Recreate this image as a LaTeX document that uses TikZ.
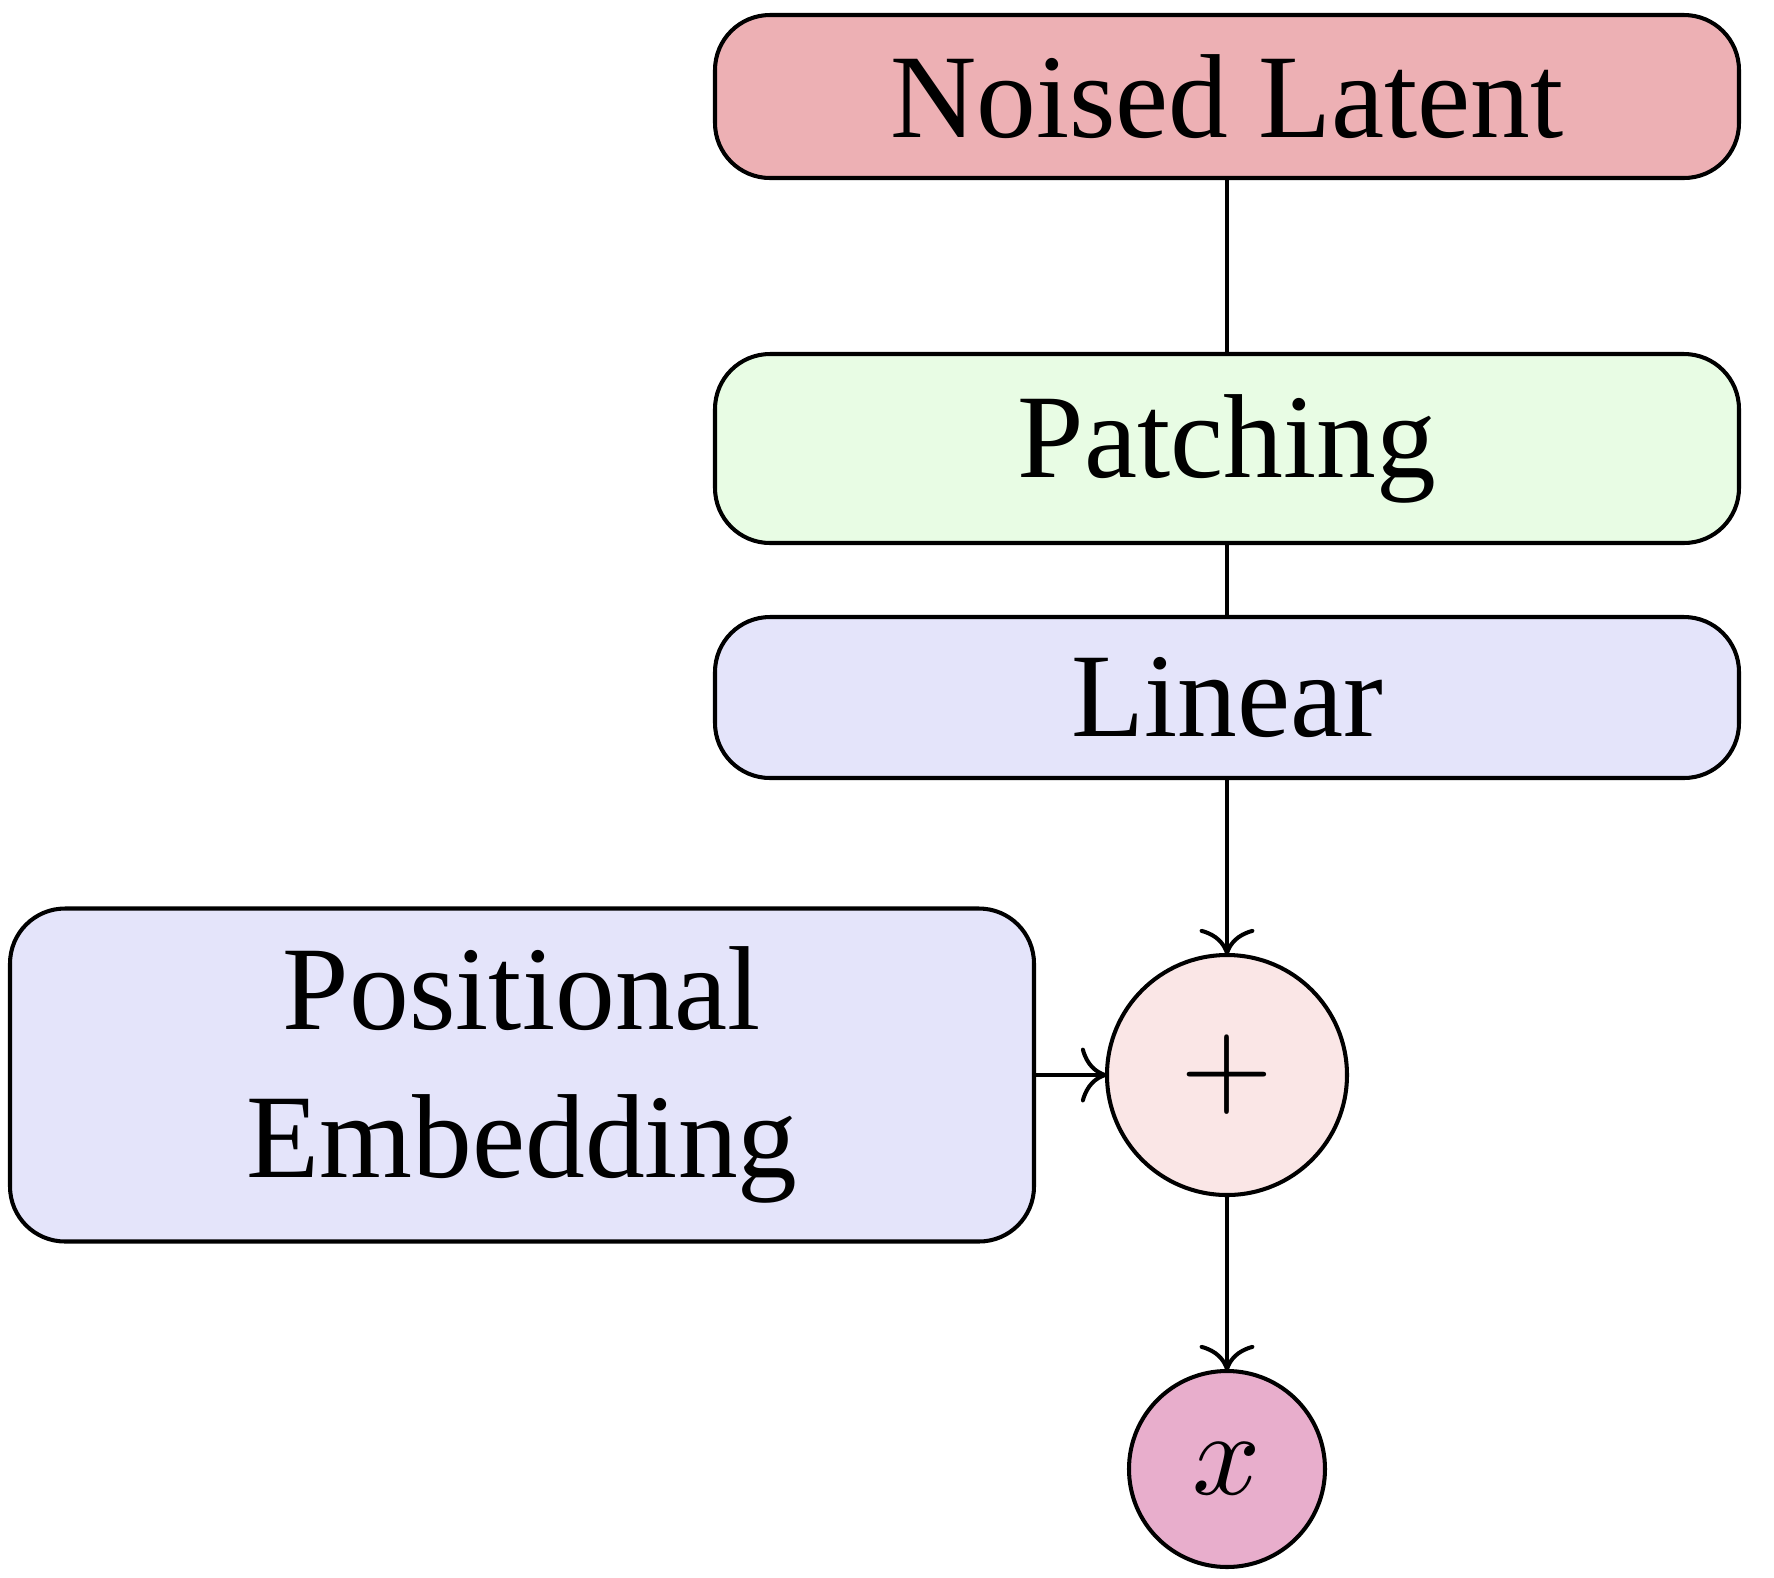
\documentclass[tikz,border=0pt]{standalone}
\usepackage{fontspec}
\setmainfont{Liberation Serif}
\usepackage{tikz}
\usetikzlibrary{arrows.meta,positioning}
\definecolor{latentred}{RGB}{237,176,180}
\definecolor{patchgreen}{RGB}{232,252,228}
\definecolor{linblue}{RGB}{228,228,250}
\definecolor{sumpink}{RGB}{250,230,230}
\definecolor{outpink}{RGB}{232,174,204}
\newcommand{\bigsym}[1]{\scalebox{3.4}{$#1$}}

\begin{document}
\begin{tikzpicture}[line width=1.15pt, >={To[scale=1.8]}, box/.style={draw,rounded corners=0.55cm,align=center,font=\fontsize{34}{42}\selectfont,minimum width=10.24cm,inner sep=0pt,outer sep=0pt}, circ/.style={draw,circle,inner sep=0pt,outer sep=0pt}]
\useasboundingbox (0,0) rectangle (17.74,-15.78);
\node[box,fill=latentred,minimum height=1.63cm] (latent) at (12.27,-0.965) {Noised Latent};
\node[box,fill=patchgreen,minimum height=1.89cm,below=1.76cm of latent] (patch) {Patching};
\node[box,fill=linblue,minimum height=1.61cm,below=0.74cm of patch] (linear) {Linear};
\node[circ,fill=sumpink,minimum size=2.4cm,below=1.77cm of linear] (add) {\bigsym{+}};
\node[circ,fill=outpink,minimum size=1.96cm,below=1.76cm of add] (out) {\bigsym{x}};
\node[box,fill=linblue,minimum height=3.33cm,left=0.73cm of add] (posemb) {Positional\\Embedding};
\draw (latent) -- (patch); \draw (patch) -- (linear);
\draw[->] (linear) -- (add); \draw[->] (add) -- (out); \draw[->] (posemb) -- (add);
\end{tikzpicture}
\end{document}
